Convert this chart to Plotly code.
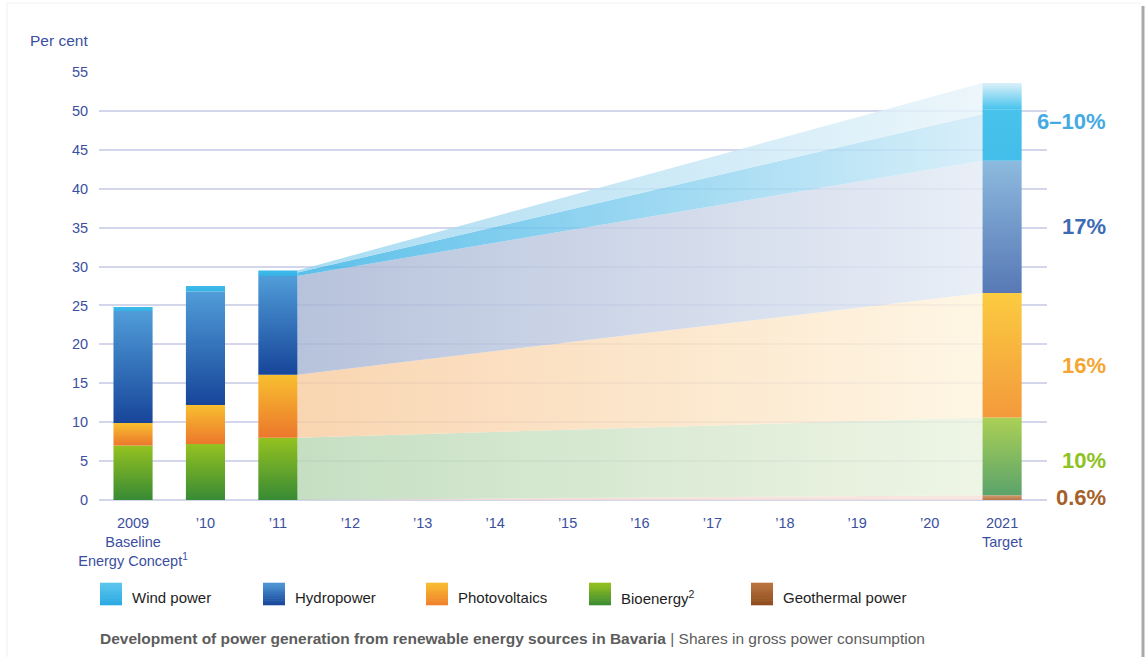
import plotly.graph_objects as go

# ---------------- data ----------------
categories = ["2009<br>Baseline<br>Energy Concept<sup>1</sup>", "’10", "’11", "’12", "’13", "’14",
              "’15", "’16", "’17", "’18", "’19", "’20", "2021<br>Target"]
hist_idx = [0, 1, 2]
bio = [7.0, 7.2, 8.0]
pv = [2.9, 5.0, 8.1]
hydro = [14.4, 14.6, 12.7]
wind = [0.5, 0.7, 0.7]
geo = [0.0, 0.0, 0.0]

target_idx = 12
target_geo = 0.6
target_bio = 10.0
target_pv = 16.0
target_hydro = 17.0
target_wind_min = 6.0
target_wind_max = 10.0
target_labels = ["6–10%", "17%", "16%", "10%", "0.6%"]

series_names = ["Wind power", "Hydropower", "Photovoltaics", "Bioenergy<sup>2</sup>", "Geothermal power"]
y_ticks = [0, 5, 10, 15, 20, 25, 30, 35, 40, 45, 50, 55]

# ---------------- helpers ----------------
W, H = 1146, 657
ML, MR, MT, MB = 99, 99, 72, 157
PW, PH = W - ML - MR, H - MT - MB
HW = 0.27  # half bar width in category units


def hx(px):
    return (px - ML) / PW


def hy(py):
    return (H - MB - py) / PH


def hex2rgb(h):
    h = h.lstrip('#')
    return tuple(int(h[i:i + 2], 16) for i in (0, 2, 4))


def over_white(h, a):
    r, g, b = hex2rgb(h)
    f = lambda c: max(0, min(255, round((c - 255 * (1 - a)) / a)))
    return f"rgba({f(r)},{f(g)},{f(b)},{a})"


fig = go.Figure()


def rect_trace(xc, y0, y1, c_bottom, c_top):
    xs = [xc - HW, xc + HW, xc + HW, xc - HW, xc - HW]
    ys = [y0, y0, y1, y1, y0]
    fig.add_trace(go.Scatter(
        x=xs, y=ys, mode='lines', fill='toself', line=dict(width=0, color='rgba(0,0,0,0)'),
        fillgradient=dict(type='vertical', colorscale=[[0, c_bottom], [1, c_top]]),
        hoverinfo='skip', showlegend=False))


def band_trace(xl, xr, lowL, highL, lowR, highR, c_left, c_right, a=0.82):
    xs = [xl, xr, xr, xl, xl]
    ys = [lowL, lowR, highR, highL, lowL]
    fig.add_trace(go.Scatter(
        x=xs, y=ys, mode='lines', fill='toself', line=dict(width=0, color='rgba(0,0,0,0)'),
        fillgradient=dict(type='horizontal',
                          colorscale=[[0, over_white(c_left, a)], [1, over_white(c_right, a)]]),
        hoverinfo='skip', showlegend=False))


# stacks for historical years
h_stack = []
for i in range(len(hist_idx)):
    s0 = geo[i]
    s1 = s0 + bio[i]
    s2 = s1 + pv[i]
    s3 = s2 + hydro[i]
    s4 = s3 + wind[i]
    h_stack.append((s0, s1, s2, s3, s4))

t0 = target_geo
t1 = t0 + target_bio
t2 = t1 + target_pv
t3 = t2 + target_hydro
t4 = t3 + target_wind_min
t5 = t3 + target_wind_max

# ---------------- fan bands ----------------
last = h_stack[-1]
xl = hist_idx[-1] + HW
xr = target_idx - HW
band_trace(xl, xr, 0, 0.05, 0, t0, "#f6dcd6", "#f8e6e0")                 # geothermal
band_trace(xl, xr, last[0], last[1], t0, t1, "#c6dfc3", "#eff5e5")        # bio
band_trace(xl, xr, last[1], last[2], t1, t2, "#f9d5b1", "#fef6e4")        # pv
band_trace(xl, xr, last[2], last[3], t2, t3, "#b7c2dc", "#e9eff7")        # hydro
mid_left = last[3] + 0.6 * (last[4] - last[3])
band_trace(xl, xr, last[3], mid_left, t3, t4, "#5cc0ea", "#d8eff9")       # wind (min)
band_trace(xl, xr, mid_left, last[4], t4, t5, "#aadcf2", "#ecf6fb")       # wind (range)

# ---------------- historical bars ----------------
for i, xc in enumerate(hist_idx):
    s0, s1, s2, s3, s4 = h_stack[i]
    rect_trace(xc, s0, s1, "#378a35", "#95c220")
    rect_trace(xc, s1, s2, "#ec772c", "#f8bf2f")
    rect_trace(xc, s2, s3, "#17459a", "#509dd8")
    rect_trace(xc, s3, s4, "#36b0e6", "#3fbcea")

# ---------------- target bar ----------------
rect_trace(target_idx, 0, t0, "#b5784a", "#d29a6a")
rect_trace(target_idx, t0, t1, "#5ba36b", "#abd055")
rect_trace(target_idx, t1, t2, "#f39a3c", "#fbcb40")
rect_trace(target_idx, t2, t3, "#5778b5", "#8dbade")
rect_trace(target_idx, t3, t4 + 0.6, "#43bde9", "#47c3ec")
rect_trace(target_idx, t4 + 0.6, t5, "#47c3ec", "#dcf1fa")

# ---------------- target labels ----------------
label_colors = ["#45aae2", "#3d6bb3", "#f5a632", "#8dc21f", "#a6602b"]
label_y = [(t3 + t5) / 2, (t2 + t3) / 2, (t1 + t2) / 2, (t0 + t1) / 2, t0 / 2]
label_shift = [0, 0, -10, -4, 0]
for txt, col, yy, sh in zip(target_labels, label_colors, label_y, label_shift):
    fig.add_annotation(x=hx(1108), xref='paper', y=yy, yref='y', yshift=sh,
                       text=f"<b>{txt}</b>", showarrow=False, xanchor='right', yanchor='middle',
                       font=dict(family="Liberation Sans, Arial, sans-serif", size=22, color=col))

# ---------------- legend (custom) ----------------
legend_cols = [("#2aa9e2", "#5cc6ee"), ("#17459a", "#4f98d6"), ("#ef7f2c", "#f9bd31"),
               ("#3a8a33", "#96c21f"), ("#8f4d1e", "#b97440")]
legend_x = [100, 263, 426, 589, 751]
sq_top, sq_bot = 583, 605
nstrip = 10
for (cb, ct), lx, name in zip(legend_cols, legend_x, series_names):
    rb, gb, bb = hex2rgb(cb)
    rt, gt, bt = hex2rgb(ct)
    for k in range(nstrip):
        f = (k + 0.5) / nstrip
        col = f"rgb({round(rb + (rt - rb) * f)},{round(gb + (gt - gb) * f)},{round(bb + (bt - bb) * f)})"
        y_lo = sq_bot - (sq_bot - sq_top) * k / nstrip
        y_hi = sq_bot - (sq_bot - sq_top) * (k + 1) / nstrip
        fig.add_shape(type='rect', xref='paper', yref='paper',
                      x0=hx(lx), x1=hx(lx + 22), y0=hy(y_lo + 0.3), y1=hy(y_hi - 0.3),
                      fillcolor=col, line=dict(width=0), layer='above')
    fig.add_annotation(x=hx(lx + 30), xref='paper', y=hy(597), yref='paper', text=name,
                       showarrow=False, xanchor='left', yanchor='middle',
                       font=dict(family="Liberation Sans, Arial", size=15, color="#1e1e1e"))

# caption
fig.add_annotation(x=hx(98), xref='paper', y=hy(638), yref='paper',
                   text="<b>Development of power generation from renewable energy sources in Bavaria</b> | Shares in gross power consumption",
                   showarrow=False, xanchor='left', yanchor='middle',
                   font=dict(family="Liberation Sans, Arial", size=15.5, color="#5c5c5c"))

# y-axis title
fig.add_annotation(x=hx(90), xref='paper', y=hy(40), yref='paper', text="Per cent",
                   showarrow=False, xanchor='right', yanchor='middle',
                   font=dict(family="Liberation Sans, Arial", size=15.5, color="#3b4f9f"))

# card borders
fig.add_shape(type='line', xref='paper', yref='paper', x0=hx(1143), x1=hx(1143), y0=hy(6), y1=hy(657),
              line=dict(color="#a9a9a9", width=3), layer='above')
fig.add_shape(type='line', xref='paper', yref='paper', x0=hx(7), x1=hx(7), y0=hy(3), y1=hy(657),
              line=dict(color="#f0f0f0", width=1), layer='above')
fig.add_shape(type='line', xref='paper', yref='paper', x0=hx(7), x1=hx(1141), y0=hy(3), y1=hy(3),
              line=dict(color="#f3f3f3", width=1), layer='above')

xtick_font = dict(family="Liberation Sans, Arial", size=14.5, color="#3b4f9f")
ytick_font = dict(family="Liberation Sans, Arial", size=14.5, color="#3b4f9f")
fig.update_layout(
    width=W, height=H,
    margin=dict(l=ML, r=MR, t=MT, b=MB, pad=0),
    paper_bgcolor="white", plot_bgcolor="white",
    showlegend=False,
    xaxis=dict(range=[-0.47, 12.62], tickmode='array', tickvals=list(range(len(categories))),
               ticktext=categories, showgrid=False, zeroline=False, showline=False,
               ticks='outside', ticklen=10, tickcolor='rgba(0,0,0,0)', tickfont=xtick_font, fixedrange=True),
    yaxis=dict(range=[0, 55], tickmode='array', tickvals=y_ticks, showgrid=True,
               gridcolor="#d4d6ec", gridwidth=1.5, zeroline=True, zerolinecolor="#d4d6ec", zerolinewidth=1.5,
               showline=False, ticks='outside', ticklen=7, tickcolor='rgba(0,0,0,0)', tickfont=ytick_font,
               fixedrange=True),
)

fig.write_html("out.html")
